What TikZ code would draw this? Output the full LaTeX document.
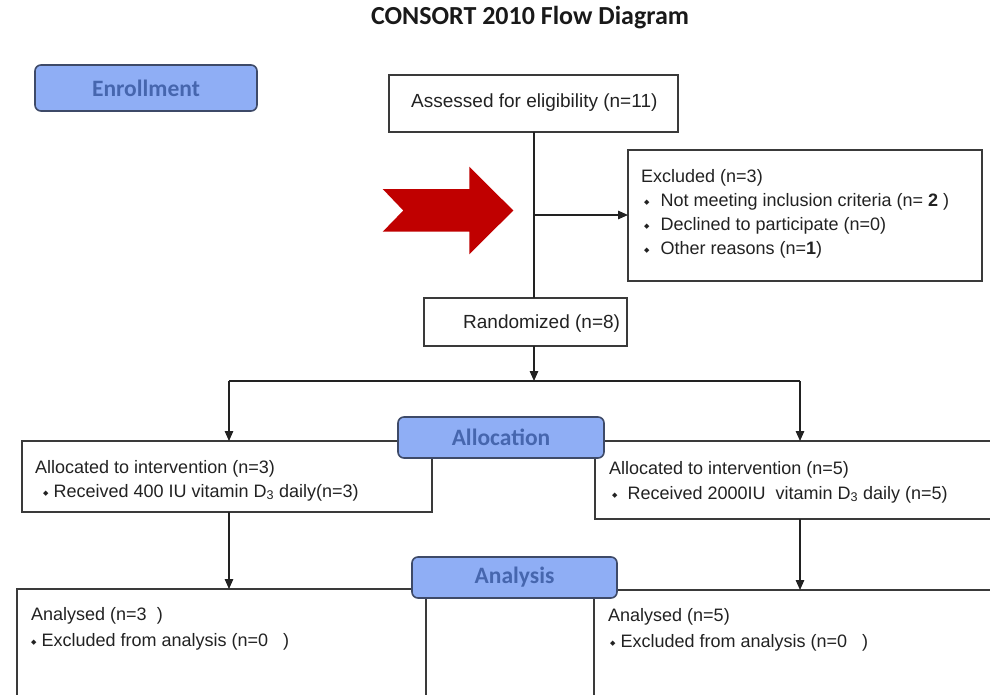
\documentclass[tikz,border=0pt]{standalone}
\usepackage{fontspec}
\setmainfont{Liberation Sans}
\newfontfamily\calib{Carlito}
\newfontfamily\dejavu{DejaVu Sans}
\usetikzlibrary{arrows.meta}
\definecolor{lblfill}{HTML}{8FAEF5}
\definecolor{lbltext}{HTML}{4666AE}
\definecolor{lbldraw}{HTML}{3E4A68}
\definecolor{boxline}{HTML}{3A3A3A}
\definecolor{redarrow}{HTML}{C00000}
\definecolor{txtcol}{HTML}{222222}
\newcommand\bul[1]{{\dejavu\fontsize{7}{7}\selectfont\raisebox{2pt}{◆}}\hspace{#1}}
\begin{document}
\begin{tikzpicture}[x=1pt,y=-1pt,
  box/.style={draw=boxline, line width=1.3pt, fill=white, inner sep=0pt, outer sep=0pt},
  lbl/.style={draw=lbldraw, line width=1.6pt, fill=lblfill, rounded corners=6pt, text=lbltext,
     font=\calib\bfseries\fontsize{23.5}{24}\selectfont, inner sep=0pt},
  txt/.style={anchor=base west, inner sep=0pt, font=\fontsize{18}{20}\selectfont, text=txtcol},
  bigtxt/.style={txt, font=\fontsize{19}{21}\selectfont},
  conn/.style={line width=1.3pt, draw=txtcol},
  arr/.style={conn, -{Triangle[length=10pt,width=8.5pt]}}]
\useasboundingbox (0,0) rectangle (990,694);
\clip (0,0) rectangle (990,694);
\fill[white] (0,0) rectangle (990,694);

% title
\node[font=\calib\bfseries\fontsize{26}{26}\selectfont, text=black!90] (title) at (530,18) {CONSORT 2010 Flow Diagram};

% boxes
\node[box, minimum width=289pt, minimum height=57pt] (assess) at (533.5,103.5) {};
\node[box, minimum width=354pt, minimum height=131pt] (excl) at (805,215.5) {};
\node[box, minimum width=203pt, minimum height=48pt] (rand) at (525.5,322) {};
\node[box, minimum width=410pt, minimum height=71pt] (allocL) at (227,476.5) {};
\node[box, minimum width=415pt, minimum height=78pt] (allocR) at (802.5,480) {};
\node[box, minimum width=409pt, minimum height=131pt] (anaL) at (221.5,654.5) {};
\node[box, minimum width=416pt, minimum height=130pt] (anaR) at (802,655) {};

% texts
\node[bigtxt] (assesstxt) at (411,107.5) {Assessed for eligibility (n=11)};
\node[txt] (excl1) at (641,182) {Excluded (n=3)};
\node[txt] (excl2) at (644,206) {\bul{11pt}Not meeting inclusion criteria (n= \textbf{2} )};
\node[txt] (excl3) at (644,230) {\bul{11pt}Declined to participate (n=0)};
\node[txt] (excl4) at (644,254) {\bul{11pt}Other reasons (n=\textbf{1})};
\node[bigtxt] (randtxt) at (463,328.5) {Randomized (n=8)};
\node[txt] (al1) at (35,473) {Allocated to intervention (n=3)};
\node[txt] (al2) at (43,497) {\bul{5pt}Received 400 IU vitamin D\textsubscript{3} daily(n=3)};
\node[txt] (ar1) at (609,474) {Allocated to intervention (n=5)};
\node[txt] (ar2) at (612,499) {\bul{10pt}Received 2000IU\ \ vitamin D\textsubscript{3} daily (n=5)};
\node[txt] (nl1) at (31,620) {Analysed (n=3\ \ )};
\node[txt] (nl2) at (31,646) {\bul{5pt}Excluded from analysis (n=0\ \ \ )};
\node[txt] (nr1) at (608,621) {Analysed (n=5)};
\node[txt] (nr2) at (610,647) {\bul{5pt}Excluded from analysis (n=0\ \ \ )};

% red arrow
\fill[redarrow] (382.7,189) -- (469.3,189) -- (469.3,166.7) -- (513.3,210.5) -- (469.3,254.3)
  -- (469.3,231.7) -- (382.7,231.7) -- (403.3,210.5) -- cycle;

% connectors
\coordinate (brk) at (534,215);
\coordinate (split) at (534,381);
\coordinate (sl) at (229,381);
\coordinate (sr) at (800,381);
\draw[conn] (assess.south -| brk) -- (rand.north -| brk);
\draw[arr] (brk) -- (brk -| excl.west);
\draw[arr] (rand.south -| split) -- (split);
\draw[conn] (sl) -- (sr);
\draw[arr] (sl) -- (sl |- allocL.north);
\draw[arr] (sr) -- (sr |- allocR.north);
\draw[arr] (allocL.south -| sl) -- (sl |- anaL.north);
\draw[arr] (allocR.south -| sr) -- (sr |- anaR.north);

% stage labels
\node[lbl, minimum width=222pt, minimum height=46pt] (enroll) at (146,88) {Enrollment};
\node[lbl, minimum width=206pt, minimum height=41pt] (alloclbl) at (501,437.5) {Allocation};
\node[lbl, minimum width=205pt, minimum height=41pt] (analbl) at (514.5,577.5) {Analysis};
\end{tikzpicture}
\end{document}
